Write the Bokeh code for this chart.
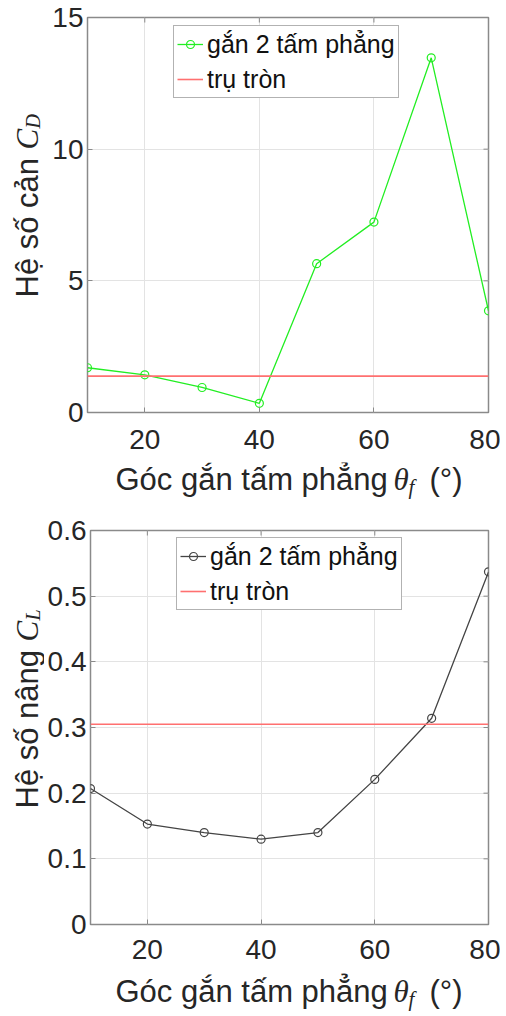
import math
from bokeh.plotting import figure
from bokeh.models import Range1d, FixedTicker, Label
from bokeh.layouts import column, row
from bokeh.embed import file_html
from bokeh.resources import INLINE

# ---- data ----
angles = [10, 20, 30, 40, 50, 60, 70, 80]
cd_plates = [1.70, 1.43, 0.95, 0.35, 5.65, 7.23, 13.47, 3.86]
cd_cylinder = 1.38
cl_plates = [0.207, 0.153, 0.140, 0.130, 0.140, 0.221, 0.314, 0.537]
cl_cylinder = 0.305

x_ticks = [20, 40, 60, 80]
cd_ticks = [0, 5, 10, 15]
cl_ticks = [0, 0.1, 0.2, 0.3, 0.4, 0.5, 0.6]

label_series = "gắn 2 tấm phẳng"
label_cyl = "trụ tròn"
xlabel_main = "Góc gắn tấm phẳng"
ylabel_cd = "Hệ số cản"
ylabel_cl = "Hệ số nâng"

SANS = "Liberation Sans"
SERIF = "Liberation Serif"
TXT = "#262626"
FRAME = "#8a8a8a"

STRIP_W = 44
FIG_W = 456
TOP_B = 17


def make_plot(height, bot_b, standoff, ymax, yticks, yvals, ycyl, color):
    p = figure(width=FIG_W, height=height, output_backend="svg", toolbar_location=None,
               x_range=Range1d(angles[0], angles[-1]), y_range=Range1d(0, ymax),
               min_border_left=43, min_border_right=12, min_border_top=TOP_B,
               min_border_bottom=bot_b)
    p.background_fill_color = "white"
    p.border_fill_color = "white"
    p.outline_line_color = FRAME
    p.outline_line_width = 1.5
    for ax in (p.xaxis[0], p.yaxis[0]):
        ax.axis_line_color = None
        ax.major_tick_in = 5
        ax.major_tick_out = 0
        ax.minor_tick_line_color = None
        ax.major_tick_line_color = FRAME
        ax.major_label_text_font = SANS
        ax.major_label_text_font_size = "28px"
        ax.major_label_text_color = TXT
    p.xaxis[0].ticker = FixedTicker(ticks=x_ticks)
    p.yaxis[0].ticker = FixedTicker(ticks=yticks)
    p.xaxis[0].major_label_standoff = standoff
    p.yaxis[0].major_label_standoff = 4
    p.xgrid.ticker = FixedTicker(ticks=x_ticks)
    p.ygrid.ticker = FixedTicker(ticks=yticks)
    p.grid.grid_line_color = "#e3e3e3"
    p.grid.grid_line_width = 1

    # mirrored inward ticks on the top and right edges (half of each dash is clipped)
    p.scatter(x_ticks, [ymax] * len(x_ticks), marker="dash", angle=math.pi / 2, size=10,
              line_color=FRAME, line_width=1)
    p.scatter([angles[-1]] * len(yticks), yticks, marker="dash", size=10,
              line_color=FRAME, line_width=1)

    p.line(angles, yvals, color=color, line_width=1.3, legend_label=label_series)
    p.scatter(angles, yvals, marker="circle", size=8, fill_color=None, line_color=color,
              line_width=1.2, legend_label=label_series)
    p.line([angles[0], angles[-1]], [ycyl, ycyl], color="#ff7070", line_width=1.6,
           legend_label=label_cyl)

    lg = p.legend[0]
    lg.location = (86, 314)
    lg.label_text_font = SANS
    lg.label_text_font_size = "25px"
    lg.label_text_color = "#111111"
    lg.border_line_color = "#666666"
    lg.border_line_width = 1.2
    lg.padding = 3
    lg.margin = 0
    lg.spacing = 5
    lg.label_height = 30
    lg.glyph_width = 26
    lg.glyph_height = 20
    lg.label_standoff = 4
    lg.background_fill_alpha = 1.0
    return p


def strip(width, height, top=0, bottom=0):
    s = figure(width=width, height=height, output_backend="svg", toolbar_location=None,
               x_range=Range1d(0, 1), y_range=Range1d(0, 1), x_axis_type=None,
               y_axis_type=None, min_border=0, min_border_left=0, min_border_right=0,
               min_border_top=top, min_border_bottom=bottom)
    s.outline_line_color = None
    s.background_fill_color = "white"
    s.border_fill_color = "white"
    return s


def ylabel_strip(height, bot_b, main, sub, start, main_w):
    # frame borders equal to the neighbouring plot so both frames coincide
    s = strip(STRIP_W, height, TOP_B, bot_b)
    ang = math.pi / 2
    s.add_layout(Label(x=26.5, y=start, x_units="screen", y_units="screen", text=main,
                       angle=ang, text_font=SANS, text_font_size="31px", text_color=TXT,
                       text_align="left", text_baseline="middle"))
    s.add_layout(Label(x=26.5, y=start + main_w, x_units="screen", y_units="screen", text="C",
                       angle=ang, text_font=SERIF, text_font_style="italic",
                       text_font_size="31px", text_color=TXT,
                       text_align="left", text_baseline="middle"))
    s.add_layout(Label(x=32.5, y=start + main_w + 21, x_units="screen", y_units="screen",
                       text=sub, angle=ang, text_font=SERIF, text_font_style="italic",
                       text_font_size="20px", text_color=TXT,
                       text_align="left", text_baseline="middle"))
    return s


def xlabel_strip(height, base):
    s = strip(STRIP_W + FIG_W, height)
    mid = base + 10.7
    s.add_layout(Label(x=115, y=mid, x_units="screen", y_units="screen", text=xlabel_main,
                       text_font=SANS, text_font_size="31px", text_color=TXT,
                       text_align="left", text_baseline="middle"))
    s.add_layout(Label(x=393, y=mid, x_units="screen", y_units="screen", text="θ",
                       text_font=SERIF, text_font_style="italic", text_font_size="31px",
                       text_color=TXT, text_align="left", text_baseline="middle"))
    s.add_layout(Label(x=408, y=base - 4 + 7.1, x_units="screen", y_units="screen", text="f",
                       text_font=SERIF, text_font_style="italic", text_font_size="21px",
                       text_color=TXT, text_align="left", text_baseline="middle"))
    s.add_layout(Label(x=429, y=mid, x_units="screen", y_units="screen", text="(°)",
                       text_font=SANS, text_font_size="31px", text_color=TXT,
                       text_align="left", text_baseline="middle"))
    return s


H1, B1 = 462, 50
H2, B2 = 459, 48
p1 = make_plot(H1, B1, 17, 15, cd_ticks, cd_plates, cd_cylinder, "#22ee22")
p2 = make_plot(H2, B2, 15, 0.6, cl_ticks, cl_plates, cl_cylinder, "#444444")

y1 = ylabel_strip(H1, B1, ylabel_cd, "D", 115, 148)
y2 = ylabel_strip(H2, B2, ylabel_cl, "L", 116, 167)
x1 = xlabel_strip(51, 23)
x2 = xlabel_strip(42, 12)

layout = column(row(y1, p1, spacing=0), x1, row(y2, p2, spacing=0), x2, spacing=0)
open("out.html", "w").write(file_html(layout, INLINE))
